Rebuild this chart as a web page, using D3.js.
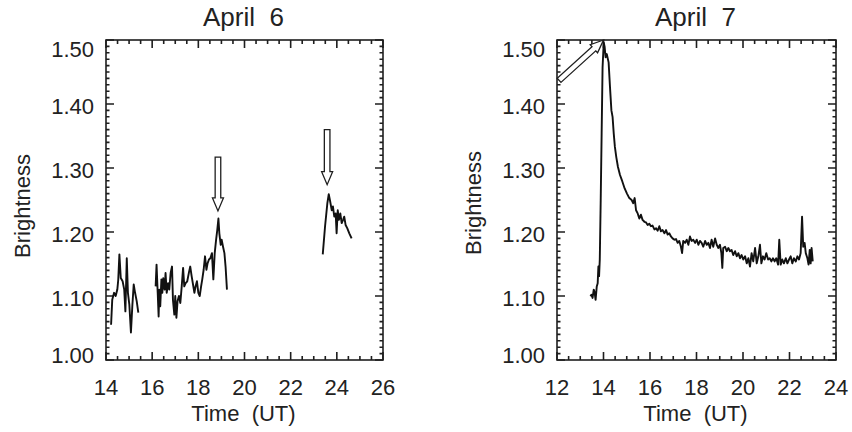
<!DOCTYPE html>
<html><head><meta charset="utf-8">
<script src="https://cdn.jsdelivr.net/npm/d3@7"></script>
<style>
body{margin:0;background:#fff}
text{font-family:"Liberation Sans",Arial,sans-serif;fill:#222}
</style>
</head><body>
<svg id="c" width="852" height="432"></svg>
<script>
// ---------- data ----------
const yTicks = [1.00, 1.10, 1.20, 1.30, 1.40, 1.50];
const apr6Ticks = [14, 16, 18, 20, 22, 24, 26];
const apr7Ticks = [12, 14, 16, 18, 20, 22, 24];
const titles = ["April  6", "April  7"];

// April 6 : [time UT, brightness]
const apr6Seg1 = [[14.22,1.055],[14.27,1.094],[14.35,1.105],[14.42,1.100],[14.49,1.110],[14.53,1.125],[14.58,1.165],[14.64,1.128],[14.72,1.123],[14.79,1.110],[14.84,1.076],[14.90,1.159],[14.95,1.105],[15.01,1.087],[15.08,1.043],[15.14,1.084],[15.20,1.118],[15.26,1.105],[15.33,1.092],[15.40,1.074]];
const apr6Seg2 = [[16.15,1.115],[16.19,1.149],[16.24,1.105],[16.28,1.068],[16.31,1.110],[16.35,1.084],[16.40,1.126],[16.44,1.105],[16.48,1.128],[16.54,1.110],[16.58,1.136],[16.63,1.105],[16.69,1.120],[16.74,1.110],[16.80,1.136],[16.86,1.146],[16.90,1.094],[16.96,1.071],[17.00,1.100],[17.05,1.066],[17.10,1.092],[17.16,1.100],[17.22,1.089],[17.28,1.115],[17.34,1.144],[17.39,1.115],[17.45,1.120],[17.52,1.123],[17.60,1.138],[17.65,1.146],[17.71,1.131],[17.77,1.118],[17.83,1.105],[17.88,1.115],[17.94,1.123],[18.00,1.105],[18.06,1.100],[18.12,1.115],[18.17,1.126],[18.23,1.141],[18.29,1.162],[18.35,1.141],[18.40,1.151],[18.46,1.157],[18.52,1.159],[18.59,1.167],[18.65,1.126],[18.71,1.167],[18.77,1.188],[18.82,1.203],[18.87,1.221],[18.91,1.198],[18.97,1.180],[19.01,1.188],[19.07,1.177],[19.13,1.167],[19.18,1.146],[19.24,1.110]];
const apr6Seg3 = [[23.39,1.165],[23.49,1.209],[23.59,1.245],[23.65,1.259],[23.70,1.250],[23.78,1.234],[23.83,1.240],[23.89,1.224],[23.95,1.229],[23.99,1.198],[24.04,1.234],[24.09,1.219],[24.15,1.229],[24.21,1.214],[24.27,1.219],[24.32,1.224],[24.38,1.211],[24.45,1.206],[24.54,1.198],[24.64,1.190]];

// April 7
const apr7Seg1 = [[13.43,1.100],[13.49,1.102],[13.53,1.097],[13.58,1.110],[13.62,1.105],[13.66,1.094],[13.71,1.115],[13.75,1.120],[13.78,1.146],[13.81,1.131],[13.84,1.157],[13.88,1.250],[13.92,1.354],[13.96,1.457],[14.01,1.496],[14.05,1.489],[14.09,1.473],[14.14,1.478],[14.22,1.465],[14.28,1.426],[14.34,1.390],[14.39,1.380],[14.44,1.354],[14.49,1.333],[14.55,1.317],[14.62,1.302],[14.71,1.289],[14.81,1.279],[14.91,1.268],[15.01,1.260],[15.11,1.253],[15.21,1.250],[15.28,1.245],[15.34,1.253],[15.40,1.234],[15.47,1.229],[15.54,1.221],[15.61,1.227],[15.68,1.219],[15.76,1.216],[15.83,1.215],[15.90,1.211],[15.97,1.213],[16.04,1.209],[16.11,1.210],[16.19,1.204],[16.26,1.206],[16.33,1.202],[16.40,1.209],[16.47,1.201],[16.54,1.203],[16.62,1.198],[16.69,1.203],[16.76,1.196],[16.83,1.198],[16.90,1.193],[16.97,1.190],[17.05,1.188],[17.12,1.189],[17.19,1.183],[17.26,1.186],[17.33,1.177],[17.38,1.167],[17.43,1.186],[17.51,1.183],[17.58,1.188],[17.65,1.180],[17.72,1.193],[17.79,1.186],[17.86,1.188],[17.94,1.183],[18.01,1.188],[18.08,1.180],[18.15,1.186],[18.22,1.183],[18.29,1.177],[18.37,1.186],[18.44,1.180],[18.51,1.183],[18.58,1.175],[18.65,1.188],[18.72,1.177],[18.80,1.190],[18.87,1.180],[18.94,1.175],[19.01,1.180],[19.07,1.167],[19.11,1.144],[19.15,1.175],[19.23,1.177],[19.30,1.170],[19.37,1.175],[19.44,1.170],[19.51,1.172],[19.58,1.164],[19.66,1.170],[19.73,1.162],[19.80,1.167],[19.87,1.159],[19.94,1.164],[20.01,1.157],[20.09,1.162],[20.16,1.151],[20.23,1.159],[20.30,1.146],[20.37,1.167],[20.44,1.154],[20.52,1.175],[20.59,1.151],[20.66,1.162],[20.73,1.180],[20.79,1.151],[20.86,1.162],[20.93,1.157],[21.00,1.167],[21.08,1.157],[21.15,1.159],[21.22,1.154],[21.29,1.159],[21.36,1.154],[21.43,1.159],[21.51,1.149],[21.56,1.188],[21.62,1.149],[21.69,1.157],[21.76,1.151],[21.84,1.159],[21.91,1.151],[21.98,1.157],[22.05,1.162],[22.12,1.151],[22.19,1.159],[22.27,1.154],[22.34,1.162],[22.41,1.157],[22.48,1.167],[22.54,1.224],[22.59,1.177],[22.65,1.183],[22.70,1.167],[22.77,1.159],[22.82,1.149],[22.87,1.172],[22.91,1.151],[22.95,1.175],[23.00,1.154]];

// arrows: [tailTime, tailBrightness, tipTime, tipBrightness]
const apr6Arrows = [[18.85,1.317,18.85,1.233],[23.58,1.360,23.58,1.274]];
const apr7Arrows = [[12.09,1.437,14.00,1.500]];

// ---------- drawing ----------
const svg = d3.select("#c");
svg.append("rect").attr("width",852).attr("height",432).attr("fill","#fff");

const panels = [
  {x0:106, x1:383, dom:[14,26], ticks:apr6Ticks, segs:[apr6Seg1,apr6Seg2,apr6Seg3], arrows:apr6Arrows, title:titles[0], ylabX:22, ylabY:206},
  {x0:557, x1:836, dom:[12,24], ticks:apr7Ticks, segs:[apr7Seg1], arrows:apr7Arrows, title:titles[1], ylabX:473, ylabY:203}
];
const plotTop = 40, plotBottom = 360;
const inkCol = "#1e1e1e";

panels.forEach(p => {
  const x = d3.scaleLinear().domain(p.dom).range([p.x0, p.x1]);
  const y = d3.scaleLinear().domain([1.0, 1.5]).range([plotBottom, plotTop]);
  const g = svg.append("g");

  const xMinor = d3.range(p.dom[0], p.dom[1] + 0.001, 0.5);
  const yMinor = d3.range(1.0, 1.5001, 0.01);
  const isMajX = v => Math.abs(v/2 - Math.round(v/2)) < 1e-6;
  const isMajY = v => Math.abs(v*10 - Math.round(v*10)) < 1e-6;

  // frame
  g.append("rect").attr("x",p.x0).attr("y",plotTop).attr("width",p.x1-p.x0).attr("height",plotBottom-plotTop)
    .attr("fill","none").attr("stroke",inkCol).attr("stroke-width",1.6);

  // inward ticks on all four sides, built as one path
  let d = "";
  xMinor.forEach(v => {
    const L = isMajX(v) ? 8 : 4, px = x(v);
    d += `M${px},${plotBottom}V${plotBottom - L}M${px},${plotTop}V${plotTop + L}`;
  });
  yMinor.forEach(v => {
    const L = isMajY(v) ? 8 : 3.5, py = y(v);
    d += `M${p.x0},${py}H${p.x0 + L}M${p.x1},${py}H${p.x1 - L}`;
  });
  g.append("path").attr("d", d).attr("fill","none").attr("stroke", inkCol).attr("stroke-width", 1.6);

  g.selectAll(".xl").data(p.ticks).join("text")
    .attr("x", v => x(v)).attr("y", plotBottom + 27).attr("text-anchor","middle")
    .attr("dominant-baseline","central").attr("font-size",22).text(v => v);
  g.selectAll(".yl").data(yTicks).join("text")
    .attr("x", p.x0 - 12).attr("y", (v,i) => y(v) + (i===0 ? -5 : i===yTicks.length-1 ? 9 : 2))
    .attr("text-anchor","end").attr("dominant-baseline","central").attr("font-size",22)
    .text(v => d3.format(".2f")(v));

  g.append("text").attr("x",(p.x0+p.x1)/2 - 1).attr("y",17).attr("text-anchor","middle")
    .attr("dominant-baseline","central").attr("font-size",26).style("white-space","pre").text(p.title);
  g.append("text").attr("x",(p.x0+p.x1)/2 - 1).attr("y",413).attr("text-anchor","middle")
    .attr("dominant-baseline","central").attr("font-size",22).style("white-space","pre").text("Time  (UT)");
  g.append("text").attr("transform",`translate(${p.ylabX},${p.ylabY}) rotate(-90)`).attr("text-anchor","middle")
    .attr("dominant-baseline","central").attr("font-size",22).text("Brightness");

  const line = d3.line().x(v => x(v[0])).y(v => y(v[1]));
  p.segs.forEach(s => g.append("path").attr("d", line(s)).attr("fill","none")
    .attr("stroke","#111").attr("stroke-width",1.9).attr("stroke-linejoin","round"));

  p.arrows.forEach(a => {
    const tx = x(a[0]), ty = y(a[1]), hx = x(a[2]), hy = y(a[3]);
    const len = Math.hypot(hx-tx, hy-ty), ux = (hx-tx)/len, uy = (hy-ty)/len;
    const nx = -uy, ny = ux;
    const sw = 2.8, hw = 5.5, hl = 13;
    const bx = hx - ux*hl, by = hy - uy*hl;
    const pts = [
      [tx+nx*sw, ty+ny*sw],[bx+nx*sw, by+ny*sw],[bx+nx*hw, by+ny*hw],[hx,hy],
      [bx-nx*hw, by-ny*hw],[bx-nx*sw, by-ny*sw],[tx-nx*sw, ty-ny*sw]
    ];
    g.append("path").attr("d", d3.line()(pts) + "Z").attr("fill","#fff")
      .attr("stroke",inkCol).attr("stroke-width",1.3).attr("stroke-linejoin","miter");
  });
});
</script>
</body></html>
